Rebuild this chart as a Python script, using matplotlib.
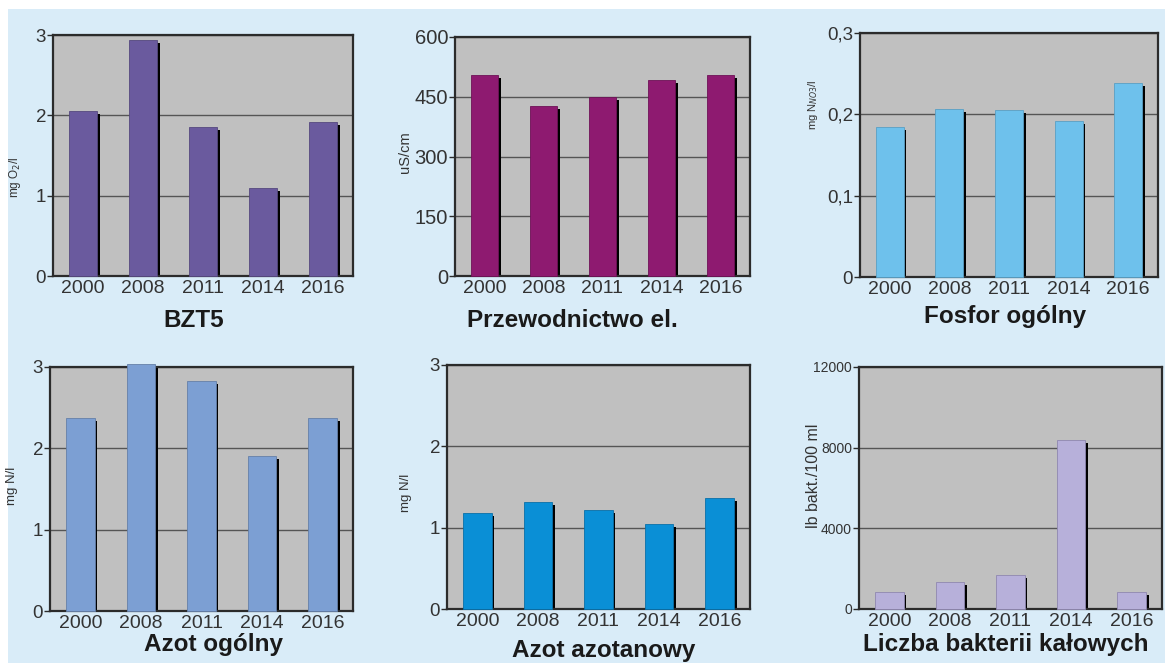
"""
Szesc wykresow slupkowych z parametrami jakosci wody (2000-2016).
"""

import matplotlib
matplotlib.use("Agg")
import matplotlib.pyplot as plt  # type: ignore
from matplotlib.patches import Rectangle

# ============================================================================
# DANE
# ============================================================================
LATA = ["2000", "2008", "2011", "2014", "2016"]

BZT5 = [2.05, 2.94, 1.85, 1.10, 1.92]
PRZEWODNICTWO = [505, 427, 450, 492, 505]
FOSFOR = [0.184, 0.206, 0.205, 0.192, 0.239]
AZOT_OGOLNY = [2.37, 3.04, 2.83, 1.91, 2.37]
AZOT_AZOTANOWY = [1.18, 1.32, 1.22, 1.04, 1.37]
BAKTERIE = [830, 1350, 1690, 8380, 840]

TICKI_3 = [0, 1, 2, 3]
ETYKIETY_3 = ["0", "1", "2", "3"]
TICKI_PRZEW = [0, 150, 300, 450, 600]
ETYKIETY_PRZEW = ["0", "150", "300", "450", "600"]
TICKI_FOSFOR = [0, 0.1, 0.2, 0.3]
ETYKIETY_FOSFOR = ["0", "0,1", "0,2", "0,3"]
TICKI_BAKT = [0, 4000, 8000, 12000]
ETYKIETY_BAKT = ["0", "4000", "8000", "12000"]

# ============================================================================
# STYL
# ============================================================================
plt.rcParams.update({
    "font.family": ["Liberation Sans", "DejaVu Sans"],
})

W, H = 1165, 663
TLO = "#d9ecf8"
TLO_OSI = "#c0c0c0"
CIEMNY = "#2b2b2b"

fig = plt.figure(figsize=(W / 100, H / 100), dpi=100)
fig.patch.set_facecolor("white")
fig.patches.append(Rectangle((8 / W, 0), 1 - 8 / W, 1 - 9 / H,
                             transform=fig.transFigure, facecolor=TLO,
                             edgecolor="none", zorder=-10))


def px_osie(lewo, gora, prawo, dol):
    return fig.add_axes([lewo / W, 1 - dol / H, (prawo - lewo) / W, (dol - gora) / H])


def rysuj_panel(pozycja, wartosci, kolor, krawedz, ticki, etykiety, ymax,
                tytul, tytul_xy, opis_y, opis_xy, fs_y=13.5, fs_opis=9.5):
    ax = px_osie(*pozycja)
    ax.set_facecolor(TLO_OSI)
    x = list(range(len(LATA)))
    szer = 0.47
    cien = 0.045
    spadek = ymax * 0.012

    # cien (czarny pasek po prawej)
    ax.bar([xi + cien for xi in x], [v - spadek for v in wartosci], width=szer,
           color="black", zorder=3, clip_on=False)
    ax.bar(x, wartosci, width=szer, color=kolor, edgecolor=krawedz,
           linewidth=0.6, zorder=4, clip_on=False)

    ax.set_xlim(-0.5, len(LATA) - 0.5)
    ax.set_ylim(0, ymax)
    ax.set_yticks(ticki)
    ax.set_yticklabels(etykiety)
    ax.set_xticks(x)
    ax.set_xticklabels(LATA)

    ax.set_axisbelow(True)
    ax.yaxis.grid(True, color="#555555", linewidth=1.0)
    ax.tick_params(axis="y", length=4, width=1, color=CIEMNY, pad=1,
                   labelsize=fs_y, labelcolor="#333333")
    ax.tick_params(axis="x", length=0, pad=3, labelsize=14, labelcolor="#333333")
    for s in ax.spines.values():
        s.set_color(CIEMNY)
        s.set_linewidth(1.6)
        s.set_zorder(3.5)

    fig.text(tytul_xy[0] / W, 1 - tytul_xy[1] / H, tytul, ha="center",
             va="center", fontsize=17.5, fontweight="bold", color="#1a1a1a")
    fig.text(opis_xy[0] / W, 1 - opis_xy[1] / H, opis_y, ha="center",
             va="center", rotation=90, fontsize=fs_opis, color="#333333")
    return ax


rysuj_panel((53, 35, 353, 276), BZT5, "#6a5a9e", "#55487f",
            TICKI_3, ETYKIETY_3, 3, "BZT5", (194, 320),
            "mg O$_2$/l", (15, 177), fs_opis=8.5)
rysuj_panel((455, 37, 750, 276), PRZEWODNICTWO, "#8e1a70", "#6e1257",
            TICKI_PRZEW, ETYKIETY_PRZEW, 600, "Przewodnictwo el.", (572, 320),
            "uS/cm", (405, 152), fs_y=14.5, fs_opis=10.5)
rysuj_panel((860, 33, 1158, 277), FOSFOR, "#6ec1ec", "#5a9fc4",
            TICKI_FOSFOR, ETYKIETY_FOSFOR, 0.3, "Fosfor ogólny", (1005, 316),
            "mg N$_{NO3}$/l", (813, 105), fs_opis=8)
rysuj_panel((50, 367, 353, 611), AZOT_OGOLNY, "#7c9fd3", "#6580a8",
            TICKI_3, ETYKIETY_3, 3, "Azot ogólny", (213, 645),
            "mg N/l", (12, 486))
rysuj_panel((447, 365, 750, 609), AZOT_AZOTANOWY, "#0a8fd6", "#0a70a8",
            TICKI_3, ETYKIETY_3, 3, "Azot azotanowy", (604, 650),
            "mg N/l", (406, 493))
rysuj_panel((859, 367, 1162, 609), BAKTERIE, "#b7b0da", "#8f88b0",
            TICKI_BAKT, ETYKIETY_BAKT, 12000, "Liczba bakterii kałowych",
            (1006, 645), "lb bakt./100 ml", (813, 476), fs_y=10, fs_opis=11.5)

fig.savefig("out.png", dpi=100, facecolor=fig.get_facecolor())
